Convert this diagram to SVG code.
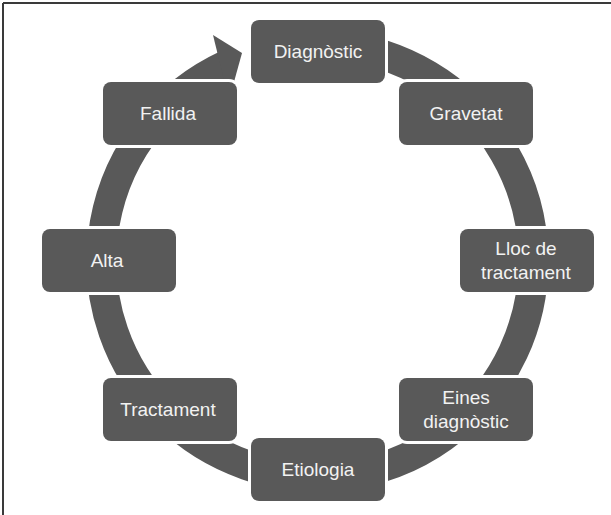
<svg xmlns="http://www.w3.org/2000/svg" width="611" height="515" viewBox="0 0 611 515">
<style>
.box{fill:#595959;stroke:#ffffff;stroke-width:6;paint-order:stroke}
.lbl{fill:#f2f2f2;font-family:"Liberation Sans",Arial,sans-serif;font-size:19px;text-anchor:middle}
.ring{fill:none;stroke:#595959;stroke-width:30}
.frame{stroke:#3a3a3a;stroke-width:2}
</style>
<rect x="0" y="0" width="611" height="515" fill="#ffffff"/>
<line class="frame" x1="3" y1="3" x2="611" y2="3"/>
<line class="frame" x1="3" y1="3" x2="3" y2="515"/>
<g id="connectors">
<path class="ring" d="M336.3,45.8 A216,216 0 1 1 226.2,65.2"/>
<polygon points="213,35 242,53 229,100 224,80" fill="#595959"/>
</g>
<g id="node-diagnostic"><rect class="box" x="251" y="20" width="134" height="63" rx="8"/><text class="lbl" x="318" y="58">Diagnòstic</text></g>
<g id="node-gravetat"><rect class="box" x="399" y="82" width="134" height="63" rx="8"/><text class="lbl" x="466" y="120">Gravetat</text></g>
<g id="node-lloc"><rect class="box" x="460" y="229" width="134" height="63" rx="8"/><text class="lbl" x="526" y="255">Lloc de</text><text class="lbl" x="526" y="279">tractament</text></g>
<g id="node-eines"><rect class="box" x="399" y="378" width="134" height="63" rx="8"/><text class="lbl" x="466" y="404">Eines</text><text class="lbl" x="466" y="428">diagnòstic</text></g>
<g id="node-etiologia"><rect class="box" x="251" y="438" width="134" height="63" rx="8"/><text class="lbl" x="318" y="476">Etiologia</text></g>
<g id="node-tractament"><rect class="box" x="103" y="378" width="134" height="63" rx="8"/><text class="lbl" x="168" y="416">Tractament</text></g>
<g id="node-alta"><rect class="box" x="42" y="229" width="134" height="63" rx="8"/><text class="lbl" x="107" y="267">Alta</text></g>
<g id="node-fallida"><rect class="box" x="103" y="82" width="134" height="63" rx="8"/><text class="lbl" x="168" y="120">Fallida</text></g>
</svg>
